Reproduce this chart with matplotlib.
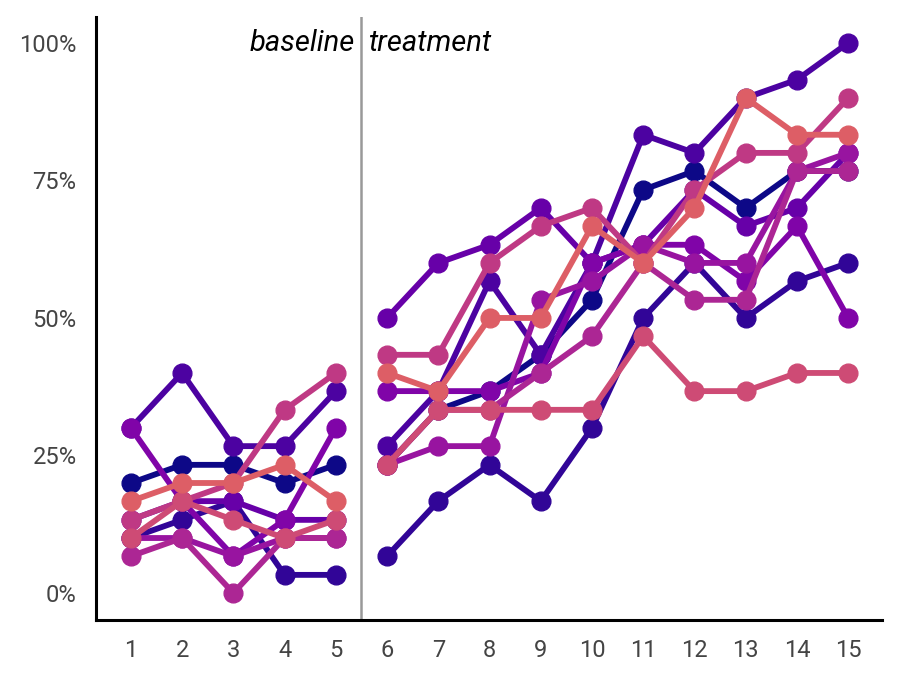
import matplotlib.pyplot as plt
import numpy as np

# sessions 1-15, shares as fractions of 30 trials
sessions = list(range(1, 16))
phase_split = 5.5

A = [30, 40, 26.7, 26.7, 36.7, 26.7, 36.7, 56.7, 43.3, 60, 83.3, 80, 90, 93.3, 100]
D = [13.3, 16.7, 16.7, 13.3, 13.3, 50, 60, 63.3, 70, 60, 63.3, 73.3, 66.7, 70, 80]
E = [20, 23.3, 23.3, 20, 23.3, 23.3, 33.3, 36.7, 43.3, 53.3, 73.3, 76.7, 70, 76.7, 76.7]
H = [10, 13.3, 16.7, 3.3, 3.3, 6.7, 16.7, 23.3, 16.7, 30, 50, 60, 50, 56.7, 60]
I = [30, 16.7, 6.7, 13.3, 30, 36.7, 36.7, 36.7, 40, 60, 63.3, 63.3, 56.7, 66.7, 50]
F = [10, 10, 6.7, 10, 10, 23.3, 26.7, 26.7, 53.3, 56.7, 63.3, 60, 60, 76.7, 80]
G = [6.7, 10, 0, 10, 10, 23.3, 33.3, 33.3, 40, 46.7, 60, 53.3, 53.3, 76.7, 76.7]
B = [13.3, 16.7, 20, 33.3, 40, 43.3, 43.3, 60, 66.7, 70, 60, 73.3, 80, 80, 90]
J = [10, 16.7, 13.3, 10, 13.3, 23.3, 33.3, 33.3, 33.3, 33.3, 46.7, 36.7, 36.7, 40, 40]
C = [16.7, 20, 20, 23.3, 16.7, 40, 36.7, 50, 50, 66.7, 60, 70, 90, 83.3, 83.3]

series = [E, H, A, D, I, F, G, B, J, C]

plt.rcParams['font.family'] = ['Roboto', 'DejaVu Sans']

fig = plt.figure(figsize=(9, 6.75), dpi=100)
ax = fig.add_axes([0.1067, 0.0815, 0.8733, 0.8933])

cmap = plt.get_cmap('plasma')
colors = cmap(np.linspace(0.0, 0.58, len(series)))

x = np.array(sessions)
base = x <= phase_split
for vals, col in zip(series, colors):
    y = np.array(vals)
    for mask in (base, ~base):
        ax.plot(x[mask], y[mask], color=col, lw=4.2, marker='o', ms=13.5,
                solid_capstyle='round')

ax.axvline(phase_split, color='#999999', lw=1.8, zorder=0)
ax.text(phase_split - 0.12, 100, 'baseline', ha='right', va='center',
        style='italic', fontsize=21)
ax.text(phase_split + 0.12, 100, 'treatment', ha='left', va='center',
        style='italic', fontsize=21)

ax.set_xlim(0.32, 15.66)
ax.set_ylim(-4.9, 104.7)
ax.set_xticks(sessions)
ax.set_yticks([0, 25, 50, 75, 100])
ax.set_yticklabels(['0%', '25%', '50%', '75%', '100%'])
ax.tick_params(length=0, labelsize=17, labelcolor='#444444')
ax.tick_params(axis='y', pad=14)
ax.tick_params(axis='x', pad=14)

for s in ['top', 'right']:
    ax.spines[s].set_visible(False)
for s in ['left', 'bottom']:
    ax.spines[s].set_linewidth(2.2)

plt.savefig('out.png', dpi=100)
